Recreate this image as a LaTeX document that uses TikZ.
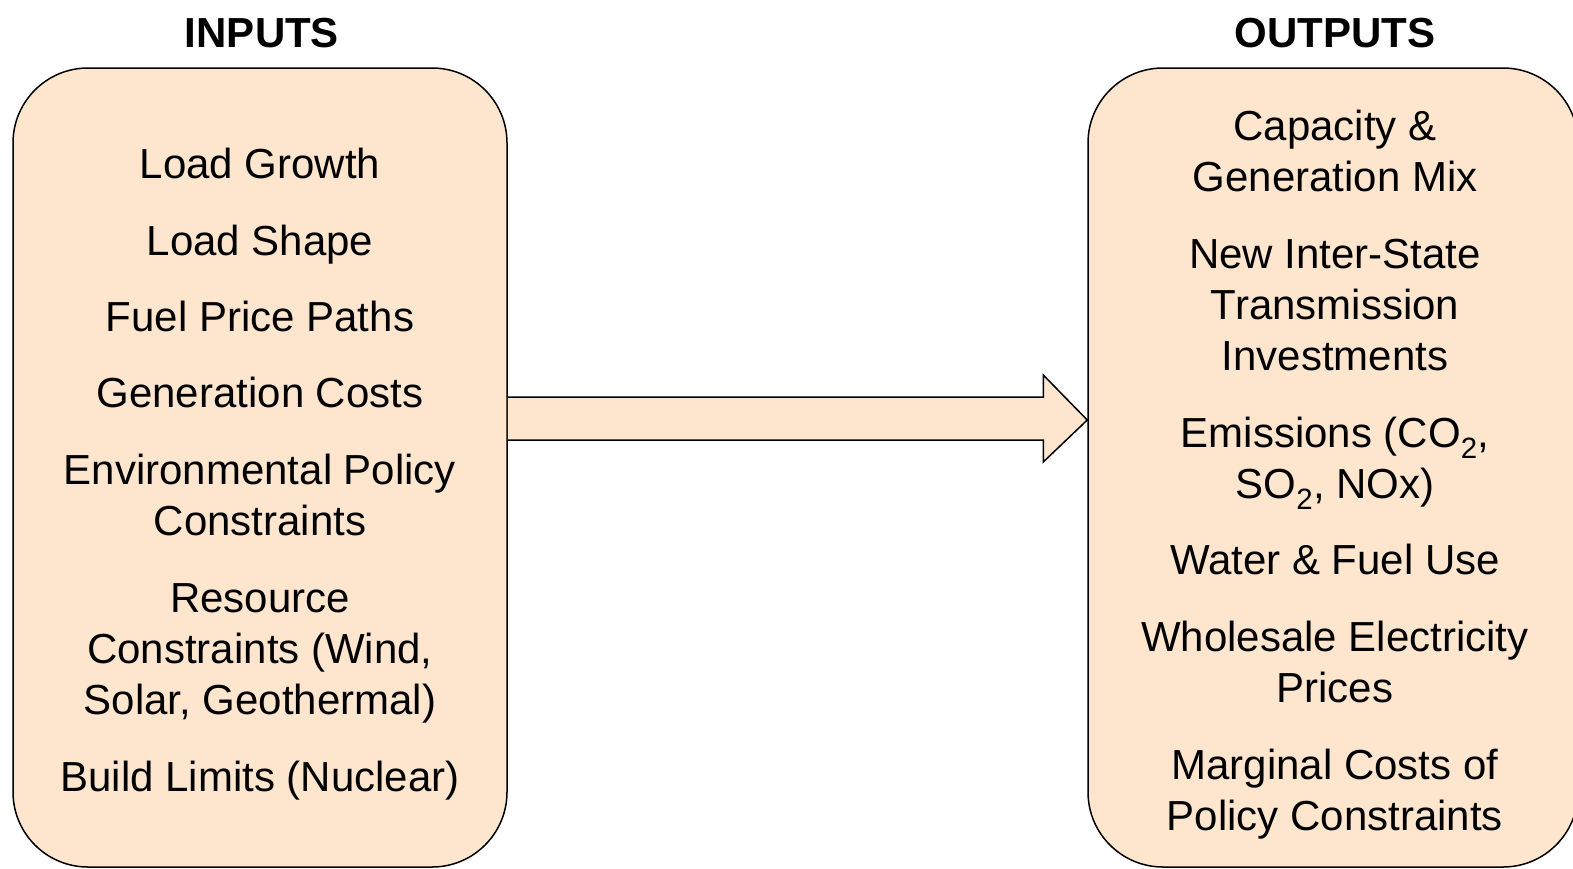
\documentclass[tikz,border=0pt]{standalone}
\usepackage{fontspec}
\setmainfont{Liberation Sans}
\usetikzlibrary{calc}
\definecolor{peach}{HTML}{FDE5CE}
\tikzset{
  panel/.style={draw=black, line width=1.5pt, fill=peach, rounded corners=75pt, inner sep=0pt},
  item/.style={align=center, font=\fontsize{42}{51}\selectfont, inner sep=0pt, anchor=base},
  title/.style={font=\fontsize{42}{51}\selectfont\bfseries, inner sep=0pt, anchor=base},
  bigarrow/.style={draw=black, line width=1.5pt, fill=peach, line join=miter}
}
\begin{document}
\begin{tikzpicture}[x=1pt,y=-1pt]
\useasboundingbox (0,0) rectangle (1573,868);
\clip (0,0) rectangle (1573,868);
\node[panel, minimum width=494pt, minimum height=799pt] (lbox) at (260,467.5) {};
\node[panel, minimum width=490pt, minimum height=799pt] (rbox) at (1333,467.5) {};
\node[title] (tin) at (262,47) {INPUTS};
\node[title] (tout) at (1335,47) {OUTPUTS};
% arrow
\coordinate (tip) at (rbox.west |- 0,420);
\coordinate (base) at (lbox.east |- 0,418);
\draw[bigarrow] ($(base)+(0,-21)$) -- ($(tip)+(-44,-23)$) -- ($(tip)+(-44,-45)$) -- (tip)
  -- ($(tip)+(-44,42)$) -- ($(tip)+(-44,20)$) -- ($(base)+(0,22)$);
% inputs (y = baseline of last line)
\node[item] (i1) at (260,178) {Load Growth};
\node[item] (i2) at (260,255) {Load Shape};
\node[item] (i3) at (260,331) {Fuel Price Paths};
\node[item] (i4) at (260,407) {Generation Costs};
\node[item] (i5) at (260,535) {Environmental Policy\\Constraints};
\node[item] (i6) at (260,714) {Resource\\Constraints (Wind,\\Solar, Geothermal)};
\node[item] (i7) at (260,791) {Build Limits (Nuclear)};
% outputs
\node[item] (o1) at (1335,191) {Capacity \&\\Generation Mix};
\node[item] (o2) at (1335,370) {New Inter-State\\Transmission\\Investments};
\node[item] (o3) at (1335,498) {Emissions (CO\textsubscript{2},\\SO\textsubscript{2}, NOx)};
\node[item] (o4) at (1335,574) {Water \& Fuel Use};
\node[item] (o5) at (1335,702) {Wholesale Electricity\\Prices};
\node[item] (o6) at (1335,830) {Marginal Costs of\\Policy Constraints};
\end{tikzpicture}
\end{document}
